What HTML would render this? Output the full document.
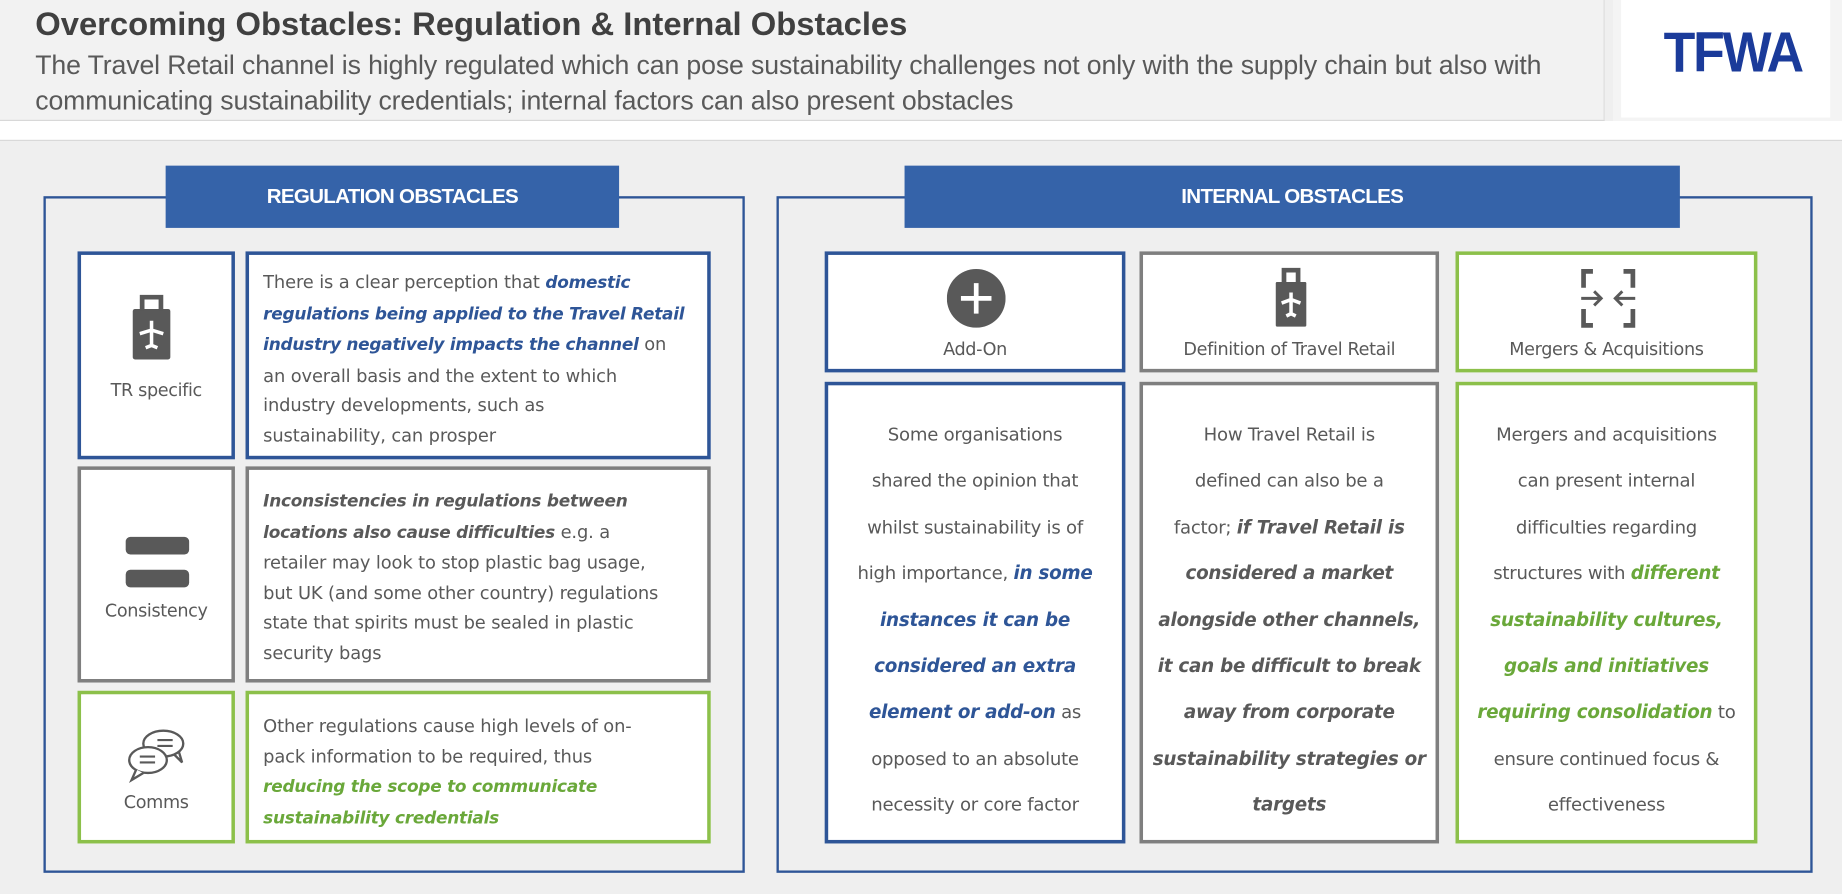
<!DOCTYPE html>
<html><head><meta charset="utf-8"><style>
html,body{margin:0;padding:0;width:1842px;height:894px;overflow:hidden;background:#efefef}
#s{position:absolute;left:0;top:0;width:1568px;height:761px;transform:scale(1.17474);transform-origin:0 0;font-family:"DejaVu Sans","Liberation Sans",sans-serif;color:#595959}
.a{position:absolute;box-sizing:border-box}
.hd{background:#3563a9;color:#fff;font-family:"Liberation Sans Narrow","Liberation Sans",sans-serif;font-weight:bold;font-size:17.5px;letter-spacing:-0.6px;text-align:center;line-height:53px}
.bl{border:3px solid #2e5597;background:#fff}
.gr{border:3px solid #7f7f7f;background:#fff}
.gn{border:3px solid #8cc04a;background:#fff}
.t{position:absolute;left:12px;font-size:15.2px;line-height:25.6px;white-space:nowrap;letter-spacing:-0.1px}
.t b{font-size:14.4px;letter-spacing:-0.2px}
.c{position:absolute;left:0;right:0;text-align:center;font-size:15.4px;line-height:39.4px;white-space:nowrap;letter-spacing:-0.2px}
.c b{font-size:15.6px}
.lbl{position:absolute;left:0;right:0;text-align:center;font-size:15px;white-space:nowrap;letter-spacing:-0.3px}
b.bb{color:#2e5597;font-style:italic}
b.bg{color:#6aa83a;font-style:italic}
b.bk{color:#595959;font-style:italic}
</style></head><body><div id="s">
<div class="a" style="left:0;top:0;width:1366px;height:103px;background:#f2f2f2;border-bottom:1px solid #d8d8d8;border-right:1px solid #ddd"></div>
<div class="a" style="left:30px;top:5px;font-family:'Liberation Sans',sans-serif;font-weight:bold;font-size:27.9px;color:#404040;white-space:nowrap">Overcoming Obstacles: Regulation &amp; Internal Obstacles</div>
<div class="a" style="left:30px;top:40px;font-family:'Liberation Sans',sans-serif;font-size:22.7px;line-height:30px;color:#595959;white-space:nowrap;letter-spacing:-0.1px">The Travel Retail channel is highly regulated which can pose sustainability challenges not only with the supply chain but also with<br>communicating sustainability credentials; internal factors can also present obstacles</div>
<div class="a" style="left:1373px;top:0;width:195px;height:103px;background:#f4f4f4"></div>
<div class="a" style="left:1380px;top:0;width:178px;height:100px;background:#fff"></div>
<div class="a" style="left:1386px;top:18px;width:178px;text-align:center;font-family:'Liberation Sans Narrow','Liberation Sans',sans-serif;font-weight:bold;font-size:48px;color:#1b3b9a;letter-spacing:-2px;transform:scaleX(0.92);transform-origin:center">TFWA</div>
<div class="a" style="left:0;top:103px;width:1568px;height:17px;background:#fff;border-bottom:1px solid #d8d8d8"></div>

<div class="a" style="left:37px;top:167px;width:597px;height:576px;border:2.5px solid #2e5597"></div>
<div class="a hd" style="left:141px;top:141px;width:386px;height:53px">REGULATION OBSTACLES</div>
<div class="a bl" style="left:66px;top:214px;width:134px;height:177px"><div class="lbl" style="top:106px">TR specific</div>
<svg class="a" style="left:43px;top:32px" width="34" height="58" viewBox="0 0 34 58"><rect x="1" y="14" width="32" height="43" rx="2" fill="#595959"/><path d="M9 15V4h16v11" stroke="#595959" stroke-width="4" fill="none"/><path d="M17 24v21M7 35l10-3 10 3M12 47l5-2 5 2" stroke="#fff" stroke-width="3" fill="none"/></svg></div>
<div class="a bl" style="left:209px;top:214px;width:396px;height:177px"><div class="t" style="top:11px">There is a clear perception that <b class="bb">domestic</b><br><b class="bb">regulations being applied to the Travel Retail</b><br><b class="bb">industry negatively impacts the channel</b> on<br>an overall basis and the extent to which<br>industry developments, such as<br>sustainability, can prosper</div></div>

<div class="a gr" style="left:66px;top:397px;width:134px;height:184px"><div class="lbl" style="top:111px">Consistency</div>
<div class="a" style="left:38px;top:57px;width:54px;height:15px;border-radius:4px;background:#595959"></div>
<div class="a" style="left:38px;top:85px;width:54px;height:15px;border-radius:4px;background:#595959"></div></div>
<div class="a gr" style="left:209px;top:397px;width:396px;height:184px"><div class="t" style="top:14px"><b class="bk">Inconsistencies in regulations between</b><br><b class="bk">locations also cause difficulties</b> e.g. a<br>retailer may look to stop plastic bag usage,<br>but UK (and some other country) regulations<br>state that spirits must be sealed in plastic<br>security bags</div></div>

<div class="a gn" style="left:66px;top:588px;width:134px;height:130px"><div class="lbl" style="top:83px">Comms</div>
<svg class="a" style="left:38px;top:28px" width="56" height="48" viewBox="0 0 56 48"><path d="M40 22l8 8-3-10" fill="#fff" stroke="#595959" stroke-width="2"/><ellipse cx="32" cy="14" rx="17" ry="11" fill="#fff" stroke="#595959" stroke-width="2"/><ellipse cx="19" cy="28" rx="16" ry="11" fill="#fff" stroke="#595959" stroke-width="2"/><path d="M9 36l-4 9 10-6" fill="#fff" stroke="#595959" stroke-width="2"/><path d="M27 11h13M27 16h13M12 25h13M12 30h13" stroke="#595959" stroke-width="1.8"/></svg></div>
<div class="a gn" style="left:209px;top:588px;width:396px;height:130px"><div class="t" style="top:15px">Other regulations cause high levels of on-<br>pack information to be required, thus<br><b class="bg">reducing the scope to communicate</b><br><b class="bg">sustainability credentials</b></div></div>

<div class="a" style="left:661px;top:167px;width:882px;height:576px;border:2.5px solid #2e5597"></div>
<div class="a hd" style="left:770px;top:141px;width:660px;height:53px">INTERNAL OBSTACLES</div>

<div class="a bl" style="left:702px;top:214px;width:256px;height:103px"><div class="lbl" style="top:71px">Add-On</div>
<svg class="a" style="left:101px;top:12px" width="50" height="50" viewBox="0 0 50 50"><circle cx="25" cy="25" r="25" fill="#595959"/><path d="M25 12v26M12 25h26" stroke="#fff" stroke-width="4"/></svg></div>
<div class="a gr" style="left:970px;top:214px;width:255px;height:103px"><div class="lbl" style="top:71px">Definition of Travel Retail</div>
<svg class="a" style="left:108px;top:10px" width="34" height="52" viewBox="0 0 34 52"><rect x="5" y="13" width="26" height="38" rx="1" fill="#595959"/><path d="M12 14V3h12v11" stroke="#595959" stroke-width="4" fill="none"/><path d="M18 22v18M10 31l8-3 8 3M14 42l4-2 4 2" stroke="#fff" stroke-width="3" fill="none"/></svg></div>
<div class="a gn" style="left:1239px;top:214px;width:257px;height:103px"><div class="lbl" style="top:71px">Mergers &amp; Acquisitions</div>
<svg class="a" style="left:100px;top:10px" width="54" height="54" viewBox="0 0 54 54"><path d="M14 4H6v14M6 36v14h8M40 4h8v14M48 36v14h-8" stroke="#595959" stroke-width="4" fill="none"/><path d="M4 27h17M15 21l6 6-6 6M50 27H33M39 21l-6 6 6 6" stroke="#595959" stroke-width="2.5" fill="none"/></svg></div>

<div class="a bl" style="left:702px;top:325px;width:256px;height:393px"><div class="c" style="top:23px">Some organisations<br>shared the opinion that<br>whilst sustainability is of<br>high importance, <b class="bb">in some</b><br><b class="bb">instances it can be</b><br><b class="bb">considered an extra</b><br><b class="bb">element or add-on</b> as<br>opposed to an absolute<br>necessity or core factor</div></div>
<div class="a gr" style="left:970px;top:325px;width:255px;height:393px"><div class="c" style="top:23px">How Travel Retail is<br>defined can also be a<br>factor; <b class="bk">if Travel Retail is</b><br><b class="bk">considered a market</b><br><b class="bk">alongside other channels,</b><br><b class="bk">it can be difficult to break</b><br><b class="bk">away from corporate</b><br><b class="bk">sustainability strategies or</b><br><b class="bk">targets</b></div></div>
<div class="a gn" style="left:1239px;top:325px;width:257px;height:393px"><div class="c" style="top:23px">Mergers and acquisitions<br>can present internal<br>difficulties regarding<br>structures with <b class="bg">different</b><br><b class="bg">sustainability cultures,</b><br><b class="bg">goals and initiatives</b><br><b class="bg">requiring consolidation</b> to<br>ensure continued focus &amp;<br>effectiveness</div></div>
</div></body></html>
